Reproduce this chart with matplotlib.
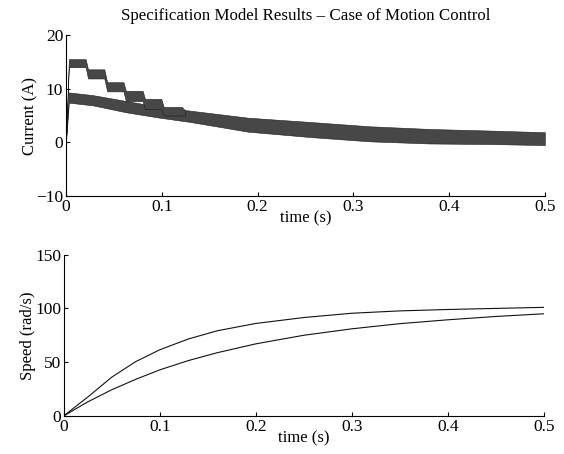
import numpy as np
import matplotlib
matplotlib.use('Agg')
import matplotlib.pyplot as plt

# current, stepped trace: plateau start/end times with the ripple band envelope
step_t = [0.0, 0.003, 0.0205, 0.023, 0.040, 0.043, 0.060, 0.0625, 0.080, 0.0825, 0.0995, 0.102, 0.121, 0.124]
step_hi = [0.5, 15.5, 15.5, 13.6, 13.6, 11.2, 11.2, 9.6, 9.6, 8.1, 8.1, 6.6, 6.6, 6.0]
step_lo = [0.0, 14.0, 14.0, 11.9, 11.9, 9.5, 9.5, 7.7, 7.7, 6.2, 6.2, 5.0, 5.0, 5.0]

# current, smooth trace (merges with the stepped one after ~0.12 s)
cur_t = [0.0, 0.003, 0.028, 0.063, 0.098, 0.13, 0.19, 0.255, 0.317, 0.38, 0.443, 0.5]
cur_hi = [0.5, 9.3, 8.8, 7.7, 6.6, 5.9, 4.6, 3.8, 3.0, 2.5, 2.2, 1.9]
cur_lo = [0.0, 7.4, 6.9, 5.6, 4.6, 3.8, 2.0, 1.0, 0.2, -0.2, -0.3, -0.5]

# speed curves
spd_t = [0, 0.025, 0.05, 0.075, 0.1, 0.13, 0.16, 0.2, 0.25, 0.3, 0.35, 0.4, 0.45, 0.5]
spd_fast = [0, 17.5, 36, 50.5, 61.5, 71.6, 79.2, 86, 91.5, 95.5, 97.7, 99, 100, 101]
spd_slow = [0, 13, 24.3, 34, 42.8, 51.5, 58.8, 67, 75, 81, 85.8, 89.4, 92.5, 95]

plt.rcParams['font.family'] = ['Liberation Serif', 'DejaVu Serif']
plt.rcParams['font.size'] = 12

fig = plt.figure(figsize=(5.64, 4.54), dpi=100)
ax1 = fig.add_axes([0.117, 0.568, 0.849, 0.355])
ax2 = fig.add_axes([0.113, 0.084, 0.851, 0.355])

band_col = '#474747'
band_edge = '#1c1c1c'

ax1.fill_between(cur_t, cur_lo, cur_hi, color=band_col, lw=0.4, edgecolor=band_edge)
ax1.fill_between(step_t, step_lo, step_hi, color=band_col, lw=0.4, edgecolor=band_edge)

ticks_t = [0, 0.1, 0.2, 0.3, 0.4, 0.5]
ticks_t_lbl = ['0', '0.1', '0.2', '0.3', '0.4', '0.5']

ax1.set_xlim(0, 0.5)
ax1.set_ylim(-10, 20)
ax1.set_yticks([-10, 0, 10, 20])
ax1.set_yticklabels(['\u221210', '0', '10', '20'])
ax1.set_xticks(ticks_t)
ax1.set_xticklabels(ticks_t_lbl)
ax1.set_ylabel('Current (A)', labelpad=-1.5)
ax1.set_xlabel('time (s)', labelpad=-3)
ax1.set_title('Specification Model Results \u2013 Case of Motion Control', fontsize=12.2, pad=11)

ax2.plot(spd_t, spd_fast, color='#111111', lw=0.8)
ax2.plot(spd_t, spd_slow, color='#111111', lw=0.8)
ax2.set_xlim(0, 0.5)
ax2.set_ylim(0, 150)
ax2.set_yticks([0, 50, 100, 150])
ax2.set_xticks(ticks_t)
ax2.set_xticklabels(ticks_t_lbl)
ax2.set_ylabel('Speed (rad/s)', labelpad=-1)
ax2.set_xlabel('time (s)', labelpad=-3)

for ax in (ax1, ax2):
    ax.spines['top'].set_visible(False)
    ax.spines['right'].set_visible(False)
    ax.spines['left'].set_linewidth(0.8)
    ax.spines['bottom'].set_linewidth(0.8)
    ax.tick_params(direction='in', length=3, width=0.8, pad=2, labelsize=12.5)

fig.savefig('out.png', dpi=100)
